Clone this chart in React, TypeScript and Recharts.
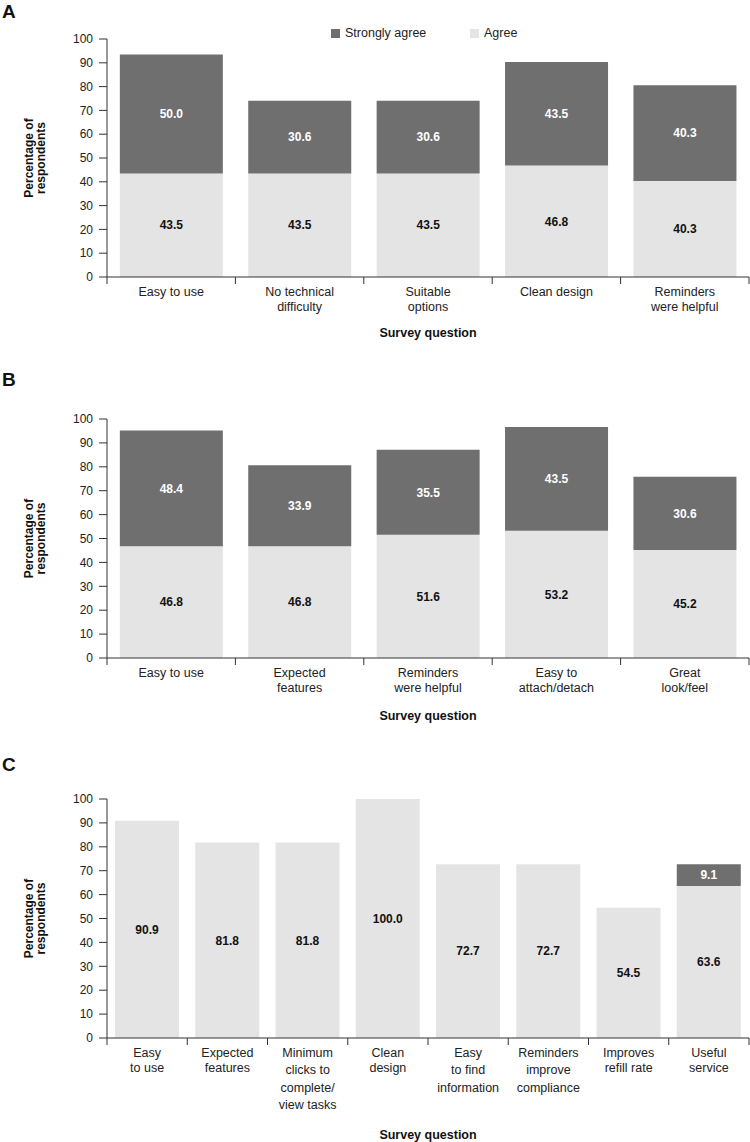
import * as React from 'react';
import { BarChart, Bar, XAxis, YAxis, LabelList, Legend } from 'recharts';

const FONT = '"Liberation Sans", Arial, Helvetica, sans-serif';
const DARK = '#6f6f6f';
const LIGHT = '#e4e4e4';
const AXIS = '#333';

const Y_TICKS = [0, 10, 20, 30, 40, 50, 60, 70, 80, 90, 100];
const SERIES_NAMES = ['Strongly agree', 'Agree'];

// panel A
const CATS_A = ['Easy to use', 'No technical\ndifficulty', 'Suitable\noptions', 'Clean design', 'Reminders\nwere helpful'];
const AGREE_A = [43.5, 43.5, 43.5, 46.8, 40.3];
const STRONG_A = [50.0, 30.6, 30.6, 43.5, 40.3];

// panel B
const CATS_B = ['Easy to use', 'Expected\nfeatures', 'Reminders\nwere helpful', 'Easy to\nattach/detach', 'Great\nlook/feel'];
const AGREE_B = [46.8, 46.8, 51.6, 53.2, 45.2];
const STRONG_B = [48.4, 33.9, 35.5, 43.5, 30.6];

// panel C
const CATS_C = [
  'Easy\nto use',
  'Expected\nfeatures',
  'Minimum\nclicks to\ncomplete/\nview tasks',
  'Clean\ndesign',
  'Easy\nto find\ninformation',
  'Reminders\nimprove\ncompliance',
  'Improves\nrefill rate',
  'Useful\nservice',
];
const AGREE_C = [90.9, 81.8, 81.8, 100.0, 72.7, 72.7, 54.5, 63.6];
const STRONG_C = [0, 0, 0, 0, 0, 0, 0, 9.1];

const PLOT_W = 642;

function CatTick(props: any) {
  const { x, y, payload, index, count } = props;
  const band = PLOT_W / count;
  const lines = String(payload.value).split('\n');
  const gap = lines.length > 2 ? 17.5 : 15;
  return (
    <g>
      <line x1={x - band / 2} x2={x - band / 2} y1={y} y2={y + 7} stroke={AXIS} />
      {index === count - 1 && (
        <line x1={x + band / 2} x2={x + band / 2} y1={y} y2={y + 7} stroke={AXIS} />
      )}
      <text x={x} y={y + 18.5} textAnchor="middle" fontSize={12.5} fill="#222" fontFamily={FONT}>
        {lines.map((l, i) => (
          <tspan key={i} x={x} dy={i === 0 ? 0 : gap}>
            {l}
          </tspan>
        ))}
      </text>
    </g>
  );
}

function XTitle(props: any) {
  const { viewBox, dy } = props;
  const cx = viewBox.x + viewBox.width / 2;
  return (
    <text x={cx} y={viewBox.y + dy} textAnchor="middle" fontSize={12.5} fontWeight="bold" fill="#111" fontFamily={FONT}>
      Survey question
    </text>
  );
}

function YTitle(props: any) {
  const { viewBox } = props;
  const cy = viewBox.y + viewBox.height / 2;
  const cx = 33;
  return (
    <text
      x={cx}
      y={cy}
      transform={`rotate(-90 ${cx} ${cy})`}
      textAnchor="middle"
      fontSize={12}
      fontWeight="bold"
      fill="#111"
      fontFamily={FONT}
    >
      <tspan x={cx} dy={0}>Percentage of</tspan>
      <tspan x={cx} dy={12}>respondents</tspan>
    </text>
  );
}

function LegendBox() {
  const colors = [DARK, LIGHT];
  return (
    <div style={{ display: 'flex', fontFamily: FONT, fontSize: 12.5, color: '#222' }}>
      {SERIES_NAMES.map((n, i) => (
        <div key={n} style={{ display: 'flex', alignItems: 'center', width: 139 }}>
          <span style={{ width: 9, height: 9, background: colors[i], display: 'inline-block', marginRight: 5 }} />
          {n}
        </div>
      ))}
    </div>
  );
}

const fmt = (v: any) => (Number(v) > 0 ? Number(v).toFixed(1) : '');

function Panel(p: {
  letter: string;
  letterTop: number;
  top: number;
  height: number;
  axisH: number;
  titleDy: number;
  cats: string[];
  agree: number[];
  strong: number[];
  legend?: boolean;
}) {
  const data = p.cats.map((c, i) => ({ q: c, agree: p.agree[i], strong: p.strong[i] }));
  return (
    <>
      <div
        style={{
          position: 'absolute',
          left: 2,
          top: p.letterTop,
          fontFamily: FONT,
          fontWeight: 'bold',
          fontSize: 19,
          lineHeight: '20px',
          color: '#111',
        }}
      >
        {p.letter}
      </div>
      <div style={{ position: 'absolute', left: 0, top: p.top }}>
        <BarChart
          width={750}
          height={p.height}
          data={data}
          margin={{ top: 39, right: 1, bottom: 0, left: 0 }}
          barCategoryGap="10%"
        >
          <XAxis
            dataKey="q"
            interval={0}
            height={p.axisH}
            tickLine={false}
            tickSize={0}
            tickMargin={0}
            axisLine={{ stroke: AXIS }}
            tick={<CatTick count={p.cats.length} />}
            label={<XTitle dy={p.titleDy} />}
          />
          <YAxis
            width={107}
            domain={[0, 100]}
            ticks={Y_TICKS}
            interval={0}
            tickSize={8}
            tickMargin={6}
            axisLine={{ stroke: AXIS }}
            tickLine={{ stroke: AXIS }}
            tick={{ fontSize: 12, fill: '#222', fontFamily: FONT }}
            label={<YTitle />}
          />
          {p.legend && (
            <Legend
              verticalAlign="middle"
              align="center"
              layout="horizontal"
              wrapperStyle={{ top: 26, left: 331, width: 300 }}
              content={<LegendBox />}
            />
          )}
          <Bar dataKey="agree" name="Agree" stackId="s" fill={LIGHT} isAnimationActive={false}>
            <LabelList
              dataKey="agree"
              position="center"
              formatter={fmt}
              fill="#111"
              fontSize={12}
              fontWeight="bold"
              fontFamily={FONT}
            />
          </Bar>
          <Bar dataKey="strong" name="Strongly agree" stackId="s" fill={DARK} isAnimationActive={false}>
            <LabelList
              dataKey="strong"
              position="center"
              formatter={fmt}
              fill="#fff"
              fontSize={12}
              fontWeight="bold"
              fontFamily={FONT}
            />
          </Bar>
        </BarChart>
      </div>
    </>
  );
}

export default function App() {
  return (
    <div style={{ position: 'absolute', left: 0, top: 0, width: 750, height: 1142, background: '#fff' }}>
      <Panel letter="A" letterTop={2} top={0} height={345} axisH={68} titleDy={60} cats={CATS_A} agree={AGREE_A} strong={STRONG_A} legend />
      <Panel letter="B" letterTop={370} top={380} height={346} axisH={68} titleDy={62} cats={CATS_B} agree={AGREE_B} strong={STRONG_B} />
      <Panel letter="C" letterTop={755} top={760} height={382} axisH={104} titleDy={101} cats={CATS_C} agree={AGREE_C} strong={STRONG_C} />
    </div>
  );
}
